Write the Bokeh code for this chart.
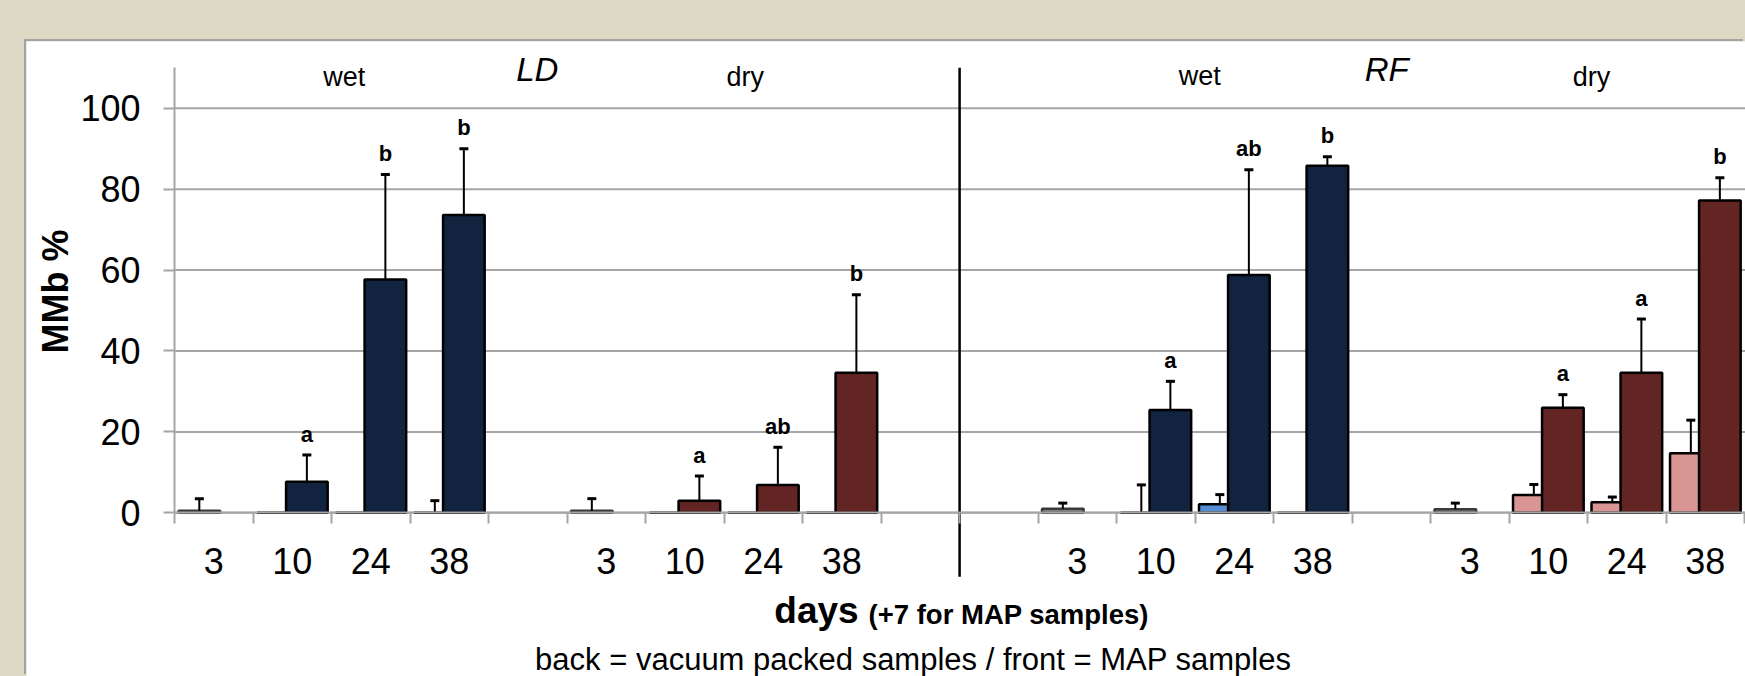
import math
from bokeh.plotting import figure
from bokeh.models import (Range1d, FixedTicker, ColumnDataSource, Whisker, TeeHead,
                          GlobalInlineStyleSheet)
from bokeh.core.properties import value
from bokeh.embed import file_html
from bokeh.resources import INLINE

# ---------------- data ----------------
days = ["3", "10", "24", "38"]
groups = ["LD wet", "LD dry", "RF wet", "RF dry"]

# day 3 (single grey bar) for LD wet, LD dry, RF wet, RF dry
day3_mmb = [0.5, 0.5, 1.0, 0.9]
day3_sd = [3.0, 3.0, 1.4, 1.5]

# days 10, 24, 38 - vacuum packed samples (back)
vp_ld_wet = [0.0, 0.0, 0.0]
vp_ld_wet_sd = [0.0, 0.0, 3.0]
vp_ld_dry = [0.0, 0.0, 0.0]
vp_ld_dry_sd = [0.0, 0.0, 0.0]
vp_rf_wet = [0.0, 2.1, 0.0]
vp_rf_wet_sd = [6.9, 2.4, 0.0]
vp_rf_dry = [4.4, 2.6, 14.7]
vp_rf_dry_sd = [2.6, 1.3, 8.2]

# days 10, 24, 38 - MAP samples (front)
map_ld_wet = [7.7, 57.7, 73.6]
map_ld_wet_sd = [6.6, 25.9, 16.4]
map_ld_dry = [3.0, 6.9, 34.6]
map_ld_dry_sd = [6.1, 9.3, 19.3]
map_rf_wet = [25.4, 58.8, 85.8]
map_rf_wet_sd = [7.1, 26.0, 2.2]
map_rf_dry = [26.0, 34.6, 77.2]
map_rf_dry_sd = [3.2, 13.3, 5.6]

# significance letters over the MAP bars
map_ld_wet_sig = ["a", "b", "b"]
map_ld_dry_sig = ["a", "ab", "b"]
map_rf_wet_sig = ["a", "ab", "b"]
map_rf_dry_sig = ["a", "a", "b"]

y_ticks = [0, 20, 40, 60, 80, 100]

# ---------------- layout / style ----------------
FONT_NAME = "Liberation Sans"
FONT = value(FONT_NAME)
group_start = [0, 5, 11, 16]          # slot of day 3 in each group
BACK, FRONT, BAR_W = 0.315, 0.685, 0.53
NAVY, MAROON = "#12233F", "#632523"
LBLUE, PINK, GREY = "#558ED5", "#D99594", "#7F7F7F"
GRIDC = "#A6A6A6"
SIG_FS = 22

W, H = 1719, 635
XR = (-1.8866, 20.0115)
YR = (-40.46, 116.5)
PXU = H / (YR[1] - YR[0])              # pixels per y unit


def tb(y, fs):
    """lift a text anchor so its alphabetic baseline sits at y"""
    return y + 0.4 * fs / PXU


vp_means = [vp_ld_wet, vp_ld_dry, vp_rf_wet, vp_rf_dry]
vp_sds = [vp_ld_wet_sd, vp_ld_dry_sd, vp_rf_wet_sd, vp_rf_dry_sd]
map_means = [map_ld_wet, map_ld_dry, map_rf_wet, map_rf_dry]
map_sds = [map_ld_wet_sd, map_ld_dry_sd, map_rf_wet_sd, map_rf_dry_sd]
map_sigs = [map_ld_wet_sig, map_ld_dry_sig, map_rf_wet_sig, map_rf_dry_sig]
back_cols = [LBLUE, PINK, LBLUE, PINK]
front_cols = [NAVY, MAROON, NAVY, MAROON]

back = dict(x=[], top=[], fill=[], line=[])
front = dict(x=[], top=[], fill=[])
err_b = dict(x=[], lower=[], upper=[])
err_f = dict(x=[], lower=[], upper=[])
sig = dict(x=[], y=[], text=[])
tick_pos, tick_lab = [], []

for g in range(4):
    s = group_start[g]
    for k, d in enumerate(days):
        tick_pos.append(s + k + 0.5)
        tick_lab.append(d)
    back["x"].append(s + BACK); back["top"].append(day3_mmb[g])
    back["fill"].append(GREY); back["line"].append("#3A3A3A")
    if day3_sd[g] > 0:
        err_b["x"].append(s + BACK); err_b["lower"].append(day3_mmb[g])
        err_b["upper"].append(day3_mmb[g] + day3_sd[g])
    for k in range(3):
        xb = s + 1 + k + BACK
        xf = s + 1 + k + FRONT
        m, sd = vp_means[g][k], vp_sds[g][k]
        back["x"].append(xb); back["top"].append(m)
        back["fill"].append(back_cols[g]); back["line"].append("black")
        if sd > 0:
            err_b["x"].append(xb); err_b["lower"].append(m); err_b["upper"].append(m + sd)
        m, sd = map_means[g][k], map_sds[g][k]
        front["x"].append(xf); front["top"].append(m); front["fill"].append(front_cols[g])
        err_f["x"].append(xf); err_f["lower"].append(m); err_f["upper"].append(m + sd)
        sig["x"].append(xf); sig["y"].append(tb(m + sd + 3.0, SIG_FS))
        sig["text"].append(map_sigs[g][k])

p = figure(width=W, height=H, x_range=Range1d(*XR), y_range=Range1d(*YR),
           output_backend="svg", toolbar_location=None,
           min_border_left=0, min_border_right=0, min_border_top=0, min_border_bottom=0,
           background_fill_color="white", border_fill_color="white", outline_line_color=None)
p.margin = (41, 0, 0, 26)
p.stylesheets = [GlobalInlineStyleSheet(
    css="html, body {margin:0; padding:0; background-color:#DDD8C3; overflow:hidden;}")]
p.styles = {"box-shadow": "-2px -2px 0px 0px #A3A3A3"}

# grid lines (from the value axis to the right edge)
p.xgrid.visible = False
p.ygrid.visible = False
p.segment(x0=[0] * len(y_ticks), x1=[XR[1]] * len(y_ticks), y0=y_ticks, y1=y_ticks,
          line_color=GRIDC, line_width=2)

# y axis at x = 0
ya = p.yaxis[0]
ya.fixed_location = 0
ya.ticker = FixedTicker(ticks=y_ticks)
ya.bounds = (0, 110)
ya.axis_line_color = GRIDC
ya.axis_line_width = 2
ya.major_tick_line_color = GRIDC
ya.major_tick_line_width = 2
ya.major_tick_out = 11
ya.major_tick_in = 0
ya.minor_tick_line_color = None
ya.major_label_text_font = FONT_NAME
ya.major_label_text_font_size = "36px"
ya.major_label_text_color = "black"
ya.major_label_standoff = 23

# x axis (category axis at y = 0)
xa = p.xaxis[0]
xa.fixed_location = 0
xa.bounds = (0, XR[1])
xa.ticker = FixedTicker(ticks=tick_pos, minor_ticks=list(range(21)))
xa.major_label_overrides = {t: l for t, l in zip(tick_pos, tick_lab)}
xa.axis_line_color = GRIDC
xa.axis_line_width = 2
xa.major_tick_line_color = None
xa.major_tick_out = 0
xa.major_tick_in = 0
xa.minor_tick_line_color = GRIDC
xa.minor_tick_line_width = 2
xa.minor_tick_out = 11
xa.minor_tick_in = 0
xa.major_label_text_font = FONT_NAME
xa.major_label_text_font_size = "36px"
xa.major_label_text_color = "black"
xa.major_label_standoff = 24

# bars
p.vbar(x="x", top="top", bottom=0, width=BAR_W, source=ColumnDataSource(back),
       fill_color="fill", line_color="line", line_width=2.5)
p.add_layout(Whisker(source=ColumnDataSource(err_b), base="x", lower="lower", upper="upper",
                     dimension="height", line_color="black", line_width=2, level="glyph",
                     lower_head=None,
                     upper_head=TeeHead(size=9, line_width=3, line_color="black")))
p.vbar(x="x", top="top", bottom=0, width=BAR_W, source=ColumnDataSource(front),
       fill_color="fill", line_color="black", line_width=2.5)
p.add_layout(Whisker(source=ColumnDataSource(err_f), base="x", lower="lower", upper="upper",
                     dimension="height", line_color="black", line_width=2, level="glyph",
                     lower_head=None,
                     upper_head=TeeHead(size=9, line_width=3, line_color="black")))
p.text(x="x", y="y", text="text", source=ColumnDataSource(sig), text_font=FONT,
       text_font_size=f"{SIG_FS}px", text_font_style="bold", text_align="center",
       text_baseline="alphabetic", text_color="black")

# separator between LD and RF
p.segment(x0=[10], y0=[-15.8], x1=[10], y1=[110], line_color="black", line_width=2.5)

# group headings
p.text(x=[2.16, 7.27, 13.06, 18.05], y=[tb(v, 27) for v in (105.1, 105.1, 105.4, 105.1)],
       text=["wet", "dry", "wet", "dry"], text_font=FONT, text_font_size="27px",
       text_align="center", text_baseline="alphabetic", text_color="black")
p.text(x=[4.62, 15.44], y=[tb(106.2, 33), tb(106.4, 33)], text=["LD", "RF"], text_font=FONT,
       text_font_size="33px", text_font_style="italic", text_align="center",
       text_baseline="alphabetic", text_color="black")

# axis titles / caption
p.text(x=[-1.52], y=[54.7], text=["MMb %"], angle=math.pi / 2, text_font=FONT,
       text_font_size="36px", text_font_style="bold", text_align="center",
       text_baseline="alphabetic", text_color="black")
p.text(x=[7.64], y=[tb(-27.9, 37)], text=["days"], text_font=FONT, text_font_size="37px",
       text_font_style="bold", text_align="left", text_baseline="alphabetic", text_color="black")
p.text(x=[8.84], y=[tb(-27.9, 27.5)], text=["(+7 for MAP samples)"], text_font=FONT,
       text_font_size="27.5px", text_font_style="bold", text_align="left",
       text_baseline="alphabetic", text_color="black")
p.text(x=[9.41], y=[tb(-39.2, 31)], text=["back = vacuum packed samples / front = MAP samples"],
       text_font=FONT, text_font_size="31px", text_align="center",
       text_baseline="alphabetic", text_color="black")

open("out.html", "w").write(file_html(p, INLINE))
